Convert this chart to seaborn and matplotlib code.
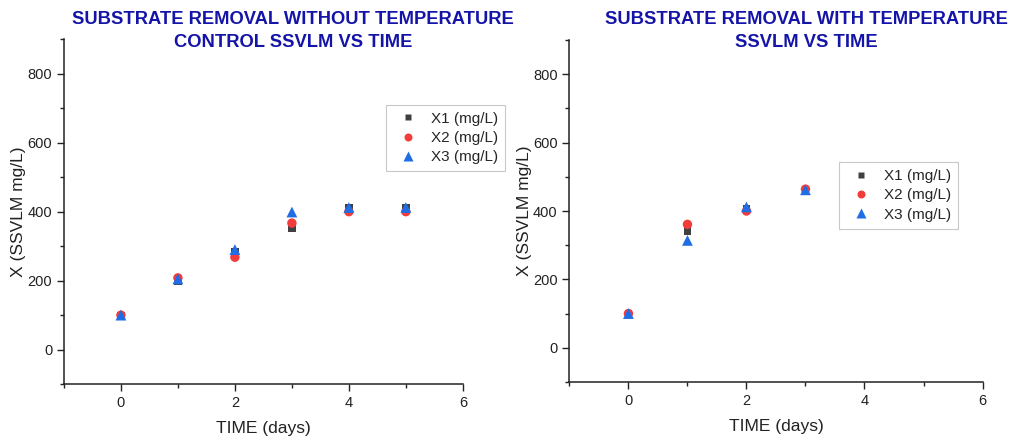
import numpy as np
import pandas as pd
import matplotlib
matplotlib.use("Agg")
import matplotlib.pyplot as plt
import seaborn as sns
from matplotlib.ticker import MultipleLocator

sns.set_style("ticks")
plt.rcParams['font.family'] = ['Liberation Sans', 'DejaVu Sans']

# without temperature control
time_a = [0, 1, 2, 3, 4, 5]
x1_a = [98, 198, 284, 353, 410, 410]
x2_a = [100, 208, 268, 367, 400, 400]
x3_a = [100, 205, 290, 399, 412, 412]

# with temperature control
time_b = [0, 1, 2, 3]
x1_b = [98, 341, 405, 462]
x2_b = [100, 361, 400, 464]
x3_b = [100, 314, 412, 462]

series = ['X1 (mg/L)', 'X2 (mg/L)', 'X3 (mg/L)']
colors = {'X1 (mg/L)': '#404040', 'X2 (mg/L)': '#f23c3c', 'X3 (mg/L)': '#1f6ee6'}
marks = {'X1 (mg/L)': 's', 'X2 (mg/L)': 'o', 'X3 (mg/L)': '^'}
msizes = {'X1 (mg/L)': 32, 'X2 (mg/L)': 46, 'X3 (mg/L)': 60}

titles = ['SUBSTRATE REMOVAL WITHOUT TEMPERATURE\nCONTROL SSVLM VS TIME',
          'SUBSTRATE REMOVAL WITH TEMPERATURE\nSSVLM VS TIME']


def long_df(t, a, b, c):
    rows = []
    for name, vals in zip(series, [a, b, c]):
        for ti, v in zip(t, vals):
            rows.append({'TIME': ti, 'X': v, 'series': name})
    return pd.DataFrame(rows)


dfa = long_df(time_a, x1_a, x2_a, x3_a)
dfb = long_df(time_b, x1_b, x2_b, x3_b)

fig = plt.figure(figsize=(10.15, 4.41), dpi=100)
ax1 = fig.add_axes([0.063, 0.129, 0.393, 0.782])
ax2 = fig.add_axes([0.561, 0.134, 0.407, 0.775])

legend_pos = [(1.125, 0.832), (0.96, 0.665)]
title_x = [293 / 1015, 806 / 1015]
for ax, df, title, lp, tx in zip([ax1, ax2], [dfa, dfb], titles, legend_pos, title_x):
    sns.scatterplot(data=df, x='TIME', y='X', hue='series', style='series',
                    size='series', sizes=msizes,
                    palette=colors, markers=marks, edgecolor='none',
                    ax=ax, zorder=3)
    ax.set_xlim(-1, 6)
    ax.set_ylim(-100, 900)
    ax.xaxis.set_major_locator(MultipleLocator(2))
    ax.xaxis.set_minor_locator(MultipleLocator(1))
    ax.yaxis.set_major_locator(MultipleLocator(200))
    ax.yaxis.set_minor_locator(MultipleLocator(100))
    ax.tick_params(which='major', length=5, width=1, labelsize=10.5, colors='#222222')
    ax.tick_params(which='minor', length=3, width=1, colors='#222222')
    for s in ['left', 'bottom']:
        ax.spines[s].set_linewidth(1.1)
        ax.spines[s].set_color('#222222')
    sns.despine(ax=ax)
    ax.set_xlabel('TIME (days)', fontsize=12.5, color='#222222', labelpad=8)
    ax.set_ylabel('X (SSVLM mg/L)', fontsize=12.5, color='#222222', labelpad=1)
    fig.text(tx, 1 - 11 / 441, title, ha='center', va='top',
             fontsize=13.2, fontweight='bold', color='#1414a8', linespacing=1.45)
    leg = ax.legend(loc='upper right', bbox_to_anchor=lp, fontsize=11,
                    frameon=True, fancybox=False, edgecolor='#bbbbbb',
                    handletextpad=0.5, borderpad=0.45, labelspacing=0.35,
                    markerscale=0.85)
    leg.get_frame().set_linewidth(0.8)

fig.savefig('out.png', dpi=100)
